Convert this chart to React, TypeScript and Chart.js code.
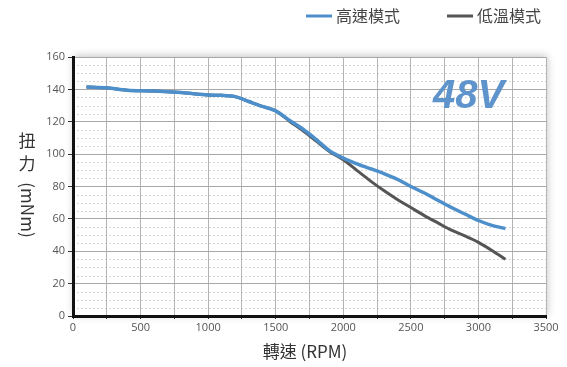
import React, { useEffect, useRef } from "react";
import { Chart, registerables } from "chart.js";

Chart.register(...registerables);

const rpm = [100, 250, 400, 600, 800, 1000, 1100, 1200, 1300, 1400, 1500, 1600, 1700, 1800, 1900, 2000, 2100, 2200, 2300, 2400, 2500, 2600, 2700, 2800, 2900, 3000, 3100, 3200];
const highSpeed = [141.5, 141, 139.5, 139, 138, 136.5, 136.3, 135.5, 132.5, 129.5, 126.7, 121, 115.5, 109, 102, 97.5, 94, 91, 88, 84.5, 80, 76, 71.5, 67, 63, 59, 56, 54];
const lowTemp = [141.5, 141, 139.5, 139, 138, 136.5, 136.3, 135.5, 132.5, 129.5, 126.7, 120.5, 114.5, 108, 101.5, 96.5, 90, 83.5, 77.5, 72, 67, 62, 57.5, 53, 49.5, 45.5, 40.5, 35];
const seriesNames = ["高速模式", "低溫模式"];
const xTitle = "轉速 (RPM)";
const yTitleChars = ["扭", "力"];
const yTitleUnit = "(mNm)";
const voltageLabel = "48V";

const BLUE = "#4c8fca";
const DARK = "#555555";

const decorPlugin = {
  id: "decor",
  beforeDraw(chart: any) {
    const { ctx, chartArea } = chart;
    const { left, top, right, bottom } = chartArea;
    ctx.save();
    ctx.fillStyle = "#ffffff";
    ctx.shadowColor = "rgba(0,0,0,0.25)";
    ctx.shadowBlur = 8;
    ctx.shadowOffsetX = 1;
    ctx.shadowOffsetY = -1;
    ctx.fillRect(left, top, right - left, bottom - top);
    ctx.restore();
    // minor dotted horizontal lines
    const y = chart.scales.y;
    ctx.save();
    ctx.strokeStyle = "#d6d6d6";
    ctx.lineWidth = 1;
    ctx.setLineDash([2, 2]);
    for (let v = 0; v <= 160; v += 5) {
      if (v % 20 === 0) continue;
      const py = Math.round(y.getPixelForValue(v)) + 0.5;
      ctx.beginPath();
      ctx.moveTo(left, py);
      ctx.lineTo(right, py);
      ctx.stroke();
    }
    ctx.restore();
  },
  afterDraw(chart: any) {
    const { ctx } = chart;
    ctx.save();
    // legend
    const items = [
      { color: BLUE, label: seriesNames[0], x: 306 },
      { color: DARK, label: seriesNames[1], x: 447 },
    ];
    ctx.font = "16px 'Noto Sans CJK TC'";
    ctx.textBaseline = "middle";
    ctx.textAlign = "left";
    items.forEach((it) => {
      ctx.strokeStyle = it.color;
      ctx.lineWidth = 3;
      ctx.beginPath();
      ctx.moveTo(it.x, 16);
      ctx.lineTo(it.x + 26, 16);
      ctx.stroke();
      ctx.fillStyle = "#444";
      ctx.fillText(it.label, it.x + 30, 16);
    });
    // x title
    ctx.font = "17px 'Noto Sans CJK TC'";
    ctx.textAlign = "center";
    ctx.fillStyle = "#333";
    ctx.fillText(xTitle, 305, 352);
    // y title
    ctx.fillText(yTitleChars[0], 27, 141);
    ctx.fillText(yTitleChars[1], 27, 164);
    ctx.save();
    ctx.translate(27, 210);
    ctx.rotate(Math.PI / 2);
    ctx.fillText(yTitleUnit, 0, 0);
    ctx.restore();
    // voltage
    ctx.font = "italic bold 40px 'Liberation Sans'";
    ctx.fillStyle = "#5f93cc";
    ctx.textAlign = "left";
    ctx.textBaseline = "alphabetic";
    ctx.fillText(voltageLabel, 433, 108);
    ctx.restore();
  },
};

export default function App() {
  const ref = useRef<HTMLCanvasElement>(null);
  useEffect(() => {
    const chart = new Chart(ref.current!, {
      type: "line",
      data: {
        datasets: [
          {
            label: seriesNames[0],
            data: rpm.map((x, i) => ({ x, y: highSpeed[i] })),
            borderColor: BLUE,
            borderWidth: 3.5,
            pointRadius: 0,
            tension: 0.3,
            order: 0,
          },
          {
            label: seriesNames[1],
            data: rpm.map((x, i) => ({ x, y: lowTemp[i] })),
            borderColor: DARK,
            borderWidth: 3,
            pointRadius: 0,
            tension: 0.3,
            order: 1,
          },
        ],
      },
      options: {
        animation: false,
        responsive: false,
        layout: { padding: { top: 57, right: 21, left: 0, bottom: 0 } },
        plugins: { legend: { display: false }, tooltip: { enabled: false } },
        scales: {
          x: {
            type: "linear",
            min: 0,
            max: 3500,
            ticks: {
              stepSize: 250,
              autoSkip: false,
              maxRotation: 0,
              color: "#555",
              font: { size: 11, family: "'Open Sans'" },
              padding: 2,
              callback: (v: any) => (v % 500 === 0 ? String(v) : ""),
            },
            grid: { color: "#b4b4b4", lineWidth: 1, tickLength: 3, tickColor: "#333" },
            border: { color: "#111", width: 3 },
            afterFit: (s: any) => {
              s.height = 51;
            },
          },
          y: {
            min: 0,
            max: 160,
            ticks: {
              stepSize: 20,
              color: "#555",
              font: { size: 11, family: "'Open Sans'" },
              padding: 3,
            },
            grid: { color: "#a8a8a8", lineWidth: 1, tickLength: 5, tickColor: "#333" },
            border: { color: "#111", width: 3 },
            afterFit: (s: any) => {
              s.width = 73;
            },
          },
        },
      },
      plugins: [decorPlugin],
    });
    return () => chart.destroy();
  }, []);
  return (
    <div style={{ position: "fixed", left: 0, top: 0, width: 567, height: 367, background: "#fff" }}>
      <canvas ref={ref} width={567} height={367} />
    </div>
  );
}
